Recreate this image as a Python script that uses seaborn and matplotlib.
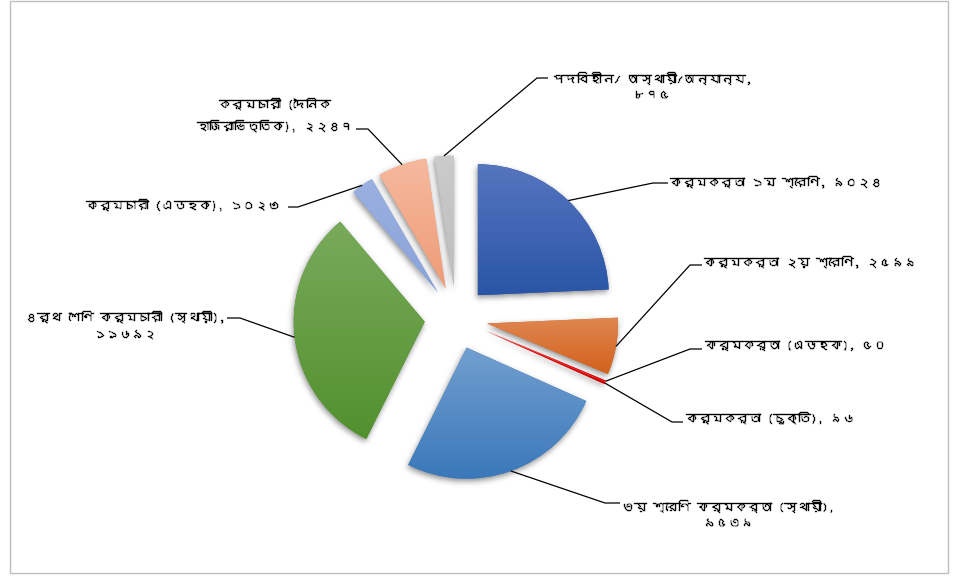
import numpy as np
import matplotlib
matplotlib.use("Agg")
import matplotlib.pyplot as plt
import matplotlib.patheffects as pe
import seaborn as sns
from matplotlib import font_manager, ft2font
from matplotlib.colors import to_rgb
from matplotlib.patches import Rectangle

# ---- data -------------------------------------------------------------
categories = [
    "কর্মকর্তা ১ম শ্রেণি",
    "কর্মকর্তা ২য় শ্রেণি",
    "কর্মকর্তা (এডহক)",
    "কর্মকর্তা (চুক্তি)",
    "৩য় শ্রেণি কর্মকর্তা (স্থায়ী)",
    "৪র্থ শেণি কর্মচারী (স্থায়ী)",
    "কর্মচারী (এডহক)",
    "কর্মচারী (দৈনিক\nহাজিরাভিত্তিক)",
    "পদবিহীন/ অস্থায়ী/অন্যান্য",
]
values = [9024, 2599, 50, 96, 9539, 11692, 1023, 2247, 875]

# gradient colours per slice (top -> bottom)
colors_top = ["#5675BF", "#E08752", "#FF2020", "#F01818", "#729FD0",
              "#79AA5B", "#9BB0E0", "#F6B99E", "#CBCBCB"]
colors_bottom = ["#2A55A6", "#D2611B", "#E00000", "#D00000", "#3B78BA",
                 "#52902E", "#88A2D9", "#EF9C78", "#BDBDBD"]

# label layout in pixel coordinates (y measured from the top)
label_pos = [(670, 182), (704, 262), (705, 346), (686, 418), (622, 514),
             (225, 325), (280, 205), (353, 115), (552, 86)]
label_ha = ["left", "left", "left", "left", "left",
            "right", "right", "right", "left"]
wrap_after_comma = [False, False, False, False, True, True, False, False, True]
leader_elbow = [(653, 183), (690, 265), (690, 349), (672, 422), (605, 503),
                (240, 318), (298, 207), (368, 129), (537, 78)]
leader_end = [(668, 183), (702, 265), (702, 349), (683, 422), (620, 503),
              (227, 318), (288, 207), (356, 129), (548, 78)]

W, H = 956, 577
BN_DIGITS = str.maketrans("0123456789", "০১২৩৪৫৬৭৮৯")


def bengali_family():
    for entry in font_manager.fontManager.ttflist:
        try:
            if 0x0995 in ft2font.FT2Font(entry.fname).get_charmap():
                return entry.name
        except Exception:
            continue
    return None


sns.set_theme(style="white")
beng = bengali_family()
families = ([beng] if beng else []) + ["Noto Sans", "DejaVu Sans"]
plt.rcParams["font.family"] = families

fig = plt.figure(figsize=(W / 100, H / 100), dpi=100)
ax = fig.add_axes([0, 0, 1, 1])

wedges, _ = ax.pie(values, colors=colors_bottom, startangle=90,
                   counterclock=False, radius=131, center=(456, H - 318),
                   explode=[31.5] * len(values),
                   wedgeprops=dict(linewidth=0))
ax.set_aspect("auto")
ax.set_xlim(0, W)
ax.set_ylim(0, H)
ax.axis("off")

# vertical gradient fill clipped to each slice
for w, ct, cb in zip(wedges, colors_top, colors_bottom):
    v = w.get_path().vertices
    x0, x1 = v[:, 0].min(), v[:, 0].max()
    y0, y1 = v[:, 1].min(), v[:, 1].max()
    t = np.linspace(0, 1, 128)[:, None]
    grad = np.array(to_rgb(cb)) * (1 - t) + np.array(to_rgb(ct)) * t
    img = np.repeat(grad[:, None, :], 2, axis=1)
    im = ax.imshow(img, extent=(x0, x1, y0, y1), origin="lower",
                   interpolation="bilinear", aspect="auto", zorder=1.5)
    im.set_clip_path(w)

# soft drop shadow under the slices
yy, xx = np.mgrid[0:H, 0:W] + 0.5
pts = np.column_stack([xx.ravel() + 1.0, yy.ravel() + 2.5])
mask = np.zeros(H * W, dtype=float)
for w in wedges:
    mask = np.maximum(mask, w.get_path().contains_points(pts).astype(float))
mask = mask.reshape(H, W)


def blur(a, sigma):
    r = int(3 * sigma)
    k = np.exp(-0.5 * (np.arange(-r, r + 1) / sigma) ** 2)
    k /= k.sum()
    a = np.apply_along_axis(lambda m: np.convolve(m, k, mode="same"), 0, a)
    a = np.apply_along_axis(lambda m: np.convolve(m, k, mode="same"), 1, a)
    return a


shade = blur(mask, 3.0)
rgba = np.zeros((H, W, 4))
rgba[..., 3] = shade * 0.45
ax.imshow(rgba, extent=(0, W, 0, H), origin="lower", interpolation="bilinear",
          aspect="auto", zorder=0.5)
ax.set_xlim(0, W)
ax.set_ylim(0, H)

# data labels with leader lines
heavy = [pe.withStroke(linewidth=0.25, foreground="black")]
for i, w in enumerate(wedges):
    name = categories[i]
    val = str(values[i]).translate(BN_DIGITS)
    sep = ",\n" if wrap_after_comma[i] else ", "
    text = f"{name}{sep}{val}"
    tm = np.deg2rad((w.theta1 + w.theta2) / 2)
    sx = w.center[0] + w.r * np.cos(tm)
    sy = w.center[1] + w.r * np.sin(tm)
    ex, ey = leader_elbow[i]
    fx, fy = leader_end[i]
    ax.plot([sx, ex, fx], [sy, H - ey, H - fy], color="black", lw=0.9,
            solid_capstyle="butt", zorder=3)
    lx, ly = label_pos[i]
    ax.text(lx, H - ly, text, ha=label_ha[i], va="center",
            multialignment="center", fontsize=9, fontweight="bold",
            linespacing=1.75, color="black", zorder=4, path_effects=heavy)

# chart border
ax.add_patch(Rectangle((10, 4), 938, 572.5, fill=False, edgecolor="#BFBFBF",
                       lw=1.0, zorder=5))

fig.savefig("out.png", dpi=100)
